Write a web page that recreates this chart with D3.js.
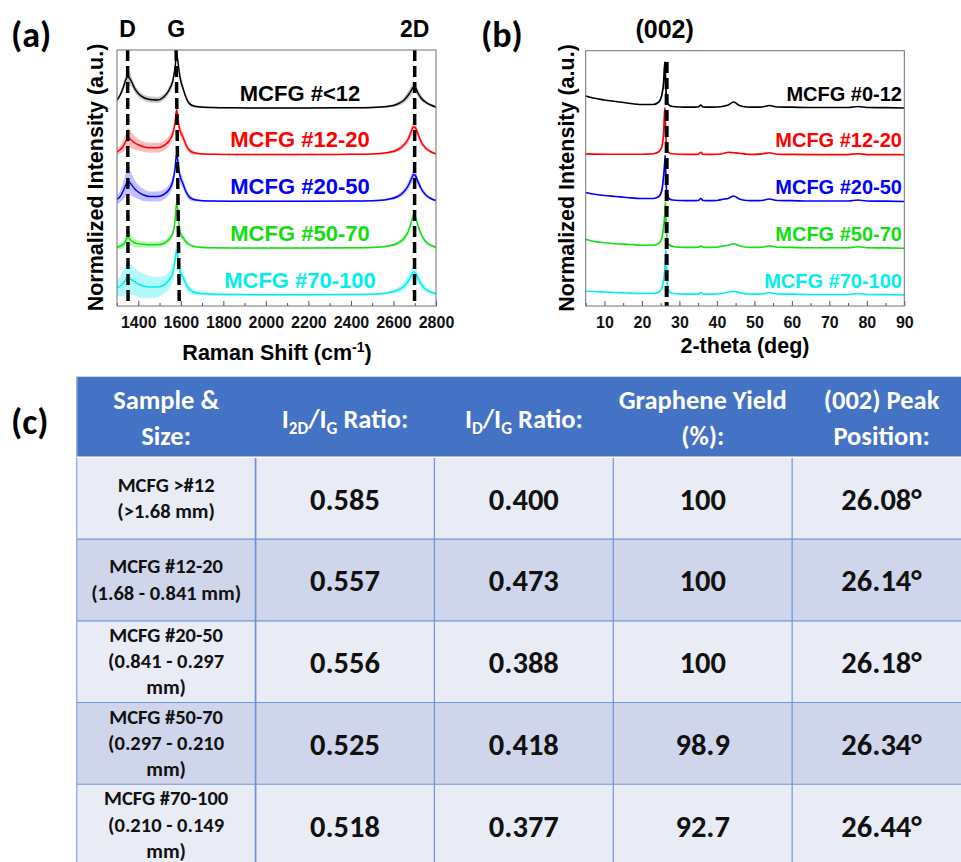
<!DOCTYPE html>
<html><head><meta charset="utf-8">
<script src="https://cdn.jsdelivr.net/npm/d3@7"></script>
<style>body{margin:0;background:#fff} svg{display:block}</style>
</head><body>
<svg id="fig" width="961" height="862"></svg>
<script>
// ---------------- DATA ----------------
const ramanLabels = ["MCFG #<12", "MCFG #12-20", "MCFG #20-50", "MCFG #50-70", "MCFG #70-100"];
const xrdLabels   = ["MCFG #0-12", "MCFG #12-20", "MCFG #20-50", "MCFG #50-70", "MCFG #70-100"];
const seriesColors = ["#000000", "#ff0000", "#0000ff", "#11dd11", "#00eeee"];

const ramanShift = [1300,1315,1330,1340,1347,1352,1358,1368,1382,1400,1425,1455,1490,1520,1545,1562,1573,1580,1585,1592,1600,1610,1622,1638,1660,1690,1750,1850,2000,2200,2400,2500,2570,2620,2650,2670,2685,2695,2703,2715,2730,2750,2775,2800];
const raman_lt12   = [8,13,21,27.5,30.5,31,30,26.5,20,14.5, 10.5,8.5,8,11,18,27,40,54,49,37, 27,20,12,5,2,1,0.5,0.2,0,0, 0.3,0.6,1.5,4,8,13,18,21,20,15, 10,6,3,1];
const raman_lt12_sd= [2,3,4,5,6,6,6,5,4,3.5, 3,3,3,3,3.5,4,4,4,4,4, 4,3.5,3,2,1.5,1,0.8,0.8,0.8,0.8, 0.8,0.8,1,2,3,4,5,5,5,4, 3,2,1.5,1];
const raman_12_20  = [3,5,9,13,16,17,16.5,14.5,12,10, 8,7,7,9,14,21,32,45,40,28, 22,18,11,5,2,1,0.5,0.3,0.2,0.2, 0.5,0.8,2,5,10,16,24,28,27,21, 13,7,3,1];
const raman_12_20_sd=[3,4,6,8,9,10,9,8,7,6, 5,5,5,5,5,5,5,5,5,5, 5,5,4,3,2,1,0.8,0.8,0.8,0.8, 0.8,0.8,1,2,3,4,5,5,5,4, 3,2,1.5,1];
const raman_20_50  = [2,5,11,16,19,20,19.5,17,13,9.5, 6.5,5,5,7,12,20,33,47,42,30, 23,18,11,5,2,1,0.5,0.3,0.2,0.2, 0.4,0.8,2,5,10,16,23,27,26,20, 13,7,3,1];
const raman_20_50_sd=[4,6,9,11,12,12,12,11,9,7, 6,5,5,5,5,6,6,6,6,6, 6,5,4,3,2,1,0.8,0.8,0.8,0.8, 0.8,0.8,1,2,3,4,5,5,5,4, 3,2,1.5,1];
const raman_50_70  = [1,2,4,7,10,11,9.5,7.5,5.5,4.5, 4,3.5,3.5,5,9,15,27,46,40,22, 14,11,7,4,2,1,0.5,0.3,0.2,0.2, 0.4,0.8,2,5,10,17,27,33,31,23, 14,7,3,1];
const raman_50_70_sd=[2,3,4,5,6,6,6,5,4,3.5, 3,3,3,3,3,3,3,3,3,3, 3,3,3,2,1.5,1,0.8,0.8,0.8,0.8, 0.8,0.8,1,2,3,3,3,3,3,3, 2.5,2,1.5,1];
const raman_70_100 = [7,9,12,15,17,17,16.5,15.5,13.5,11, 9,8,8,10,15,22,34,45,40,28, 22,18,12,6,3,1.5,0.8,0.4,0.2,0.2, 0.4,0.8,2,5,9,14,20,23,22,17, 11,6,3,1.5];
const raman_70_100_sd=[8,10,13,15,16,16,16,15,14,13, 12,11,10,9,9,8,8,8,8,8, 7,6,5,4,3,2,1.5,1,1,1, 1,1,1.5,2.5,4,5,6,6,6,5, 4,3,2,1.5];

const twoTheta = [5,7,10,13,16,20,23,24.5,25.3,25.8,26.1,26.2,26.3,26.4,26.5,26.7,27.0,27.4,28.2,30,33,35,35.7,36.3,38,40,42,43,44.5,46,48,50,52,54,56,60,65,70,75,77.7,80,85,90];
const xrd_0_12   = [12,10,8,6.5,5,3.5,3.5,6,13,26, 46,40,30,20,13,7,4,2.5,1.5,1, 0.8,1,3,1,0.8,1,2,3,6,2.5, 1,0.8,1,2.5,1,0.8,0.5,0.5,0.5,1.5, 0.5,0.3,0];
const xrd_12_20  = [0.8,0.6,0.5,0.5,0.5,0.5,1,3,8,22, 47,42,30,18,11,5,3,1.5,1,0.5, 0.3,0.5,2.5,0.5,0.3,0.5,1.5,2.5,2,1.5, 0.5,0.3,0.8,2,0.5,0.3,0.2,0.2,0.2,1, 0.2,0.1,0];
const xrd_20_50  = [9,7.5,6,5,4,3,3,5,11,26, 40,46,36,24,15,8,4.5,2.5,1.5,1, 0.8,1,3,1,0.8,1,2.5,3,5.5,2.5, 1,0.8,1,2.5,1,0.8,0.5,0.5,0.5,1.5, 0.5,0.3,0];
const xrd_50_70  = [9,7,5.5,4.5,4,3,3,5,10,22, 34,42,46,33,20,9,5,3,2,1, 0.8,1,2.5,1,0.8,1,2.5,3,4.5,2.5, 1,0.8,1,2.5,1,0.8,0.5,0.5,0.5,1.5, 0.5,0.3,0];
const xrd_70_100 = [4,3.5,3,2.5,2,1.5,1.5,3,7,15, 25,32,40,45,34,14,6,3,1.5,1, 0.8,1,2.5,1,0.8,1,2,3,3.5,2.5, 1,0.8,1,2.5,1,0.8,0.5,0.5,0.5,1.5, 0.5,0.3,0];

const stackStep = 46.75;           // vertical offset between stacked traces (a.u.)
const ramanPeaks = [{name:"D", top:1350, bottom:1352}, {name:"G", top:1578, bottom:1593}, {name:"2D", top:2700, bottom:2699}];
const xrdPeak = {name:"(002)", pos:26.6};

const ramanTicks = [1400,1600,1800,2000,2200,2400,2600,2800];
const ramanMinorTicks = [1300,1500,1700,1900,2100,2300,2500,2700];
const xrdTicks = [10,20,30,40,50,60,70,80,90];
const xrdMinorTicks = [5,15,25,35,45,55,65,75,85];

const sampleNames = ["MCFG >#12", "MCFG #12-20", "MCFG #20-50", "MCFG #50-70", "MCFG #70-100"];
const sampleSizes = [["(>1.68 mm)"], ["(1.68 - 0.841 mm)"], ["(0.841 - 0.297", "mm)"], ["(0.297 - 0.210", "mm)"], ["(0.210 - 0.149", "mm)"]];
const ratio2DG = [0.585, 0.557, 0.556, 0.525, 0.518];
const ratioDG  = [0.400, 0.473, 0.388, 0.418, 0.377];
const grapheneYield = [100, 100, 100, 98.9, 92.7];
const peak002 = [26.08, 26.14, 26.18, 26.34, 26.44];

// ---------------- DRAW ----------------
const svg = d3.select("#fig");
const fChart = "'Liberation Sans', Arial, Helvetica, sans-serif";
const fTable = "Carlito, Calibri, Lato, sans-serif";

const ramanMeans = [raman_lt12, raman_12_20, raman_20_50, raman_50_70, raman_70_100];
const ramanSds = [raman_lt12_sd, raman_12_20_sd, raman_20_50_sd, raman_50_70_sd, raman_70_100_sd];
const xrdData = [xrd_0_12, xrd_12_20, xrd_20_50, xrd_50_70, xrd_70_100];
const bandColors = ["#808080", "#ff2020", "#2020ff", "#11dd11", "#00eeee"];
const bandOpacity = [0.45, 0.3, 0.28, 0.28, 0.3];

function frameAndAxes(g, x, y, major, minor, x0, x1, y0, y1) {
  g.append("g").attr("transform", `translate(0,${y1})`)
    .call(d3.axisBottom(x).tickValues(minor).tickSize(-3).tickFormat(""))
    .call(a => a.select(".domain").remove())
    .call(a => a.selectAll("line").attr("stroke", "#555"));
  g.append("g").attr("transform", `translate(0,${y1})`)
    .call(d3.axisBottom(x).tickValues(major).tickSize(-5).tickPadding(10.5).tickFormat(d3.format("d")))
    .call(a => a.select(".domain").remove())
    .call(a => a.selectAll("line").attr("stroke", "#555"))
    .call(a => a.selectAll("text").attr("font-family", fChart).attr("font-weight", "bold").attr("font-size", 16).attr("fill", "#111"));
  g.append("rect").attr("x", x0).attr("y", y0).attr("width", x1 - x0).attr("height", y1 - y0)
    .attr("fill", "none").attr("stroke", "#707070").attr("stroke-width", 1);
}

// ---- Panel (a) ----
{
  const x0 = 117, x1 = 436, y0 = 50, y1 = 306;
  const x = d3.scaleLinear().domain([1300, 2800]).range([x0, x1]);
  const y = d3.scaleLinear().domain([-11, 245]).range([y1, y0]);
  const g = svg.append("g");
  svg.append("clipPath").attr("id", "clipA").append("rect").attr("x", x0).attr("y", y0).attr("width", x1 - x0).attr("height", y1 - y0);
  const pg = g.append("g").attr("clip-path", "url(#clipA)");
  ramanMeans.forEach((vals, i) => {
    const off = (4 - i) * stackStep;
    const sd = ramanSds[i];
    const area = d3.area().x((d, k) => x(ramanShift[k])).y0((d, k) => y(off + vals[k] - sd[k])).y1((d, k) => y(off + vals[k] + sd[k])).curve(d3.curveMonotoneX);
    pg.append("path").attr("d", area(vals)).attr("fill", bandColors[i]).attr("fill-opacity", bandOpacity[i]);
  });
  ramanMeans.forEach((vals, i) => {
    const off = (4 - i) * stackStep;
    const line = d3.line().x((d, k) => x(ramanShift[k])).y(d => y(off + d)).curve(d3.curveMonotoneX);
    pg.append("path").attr("d", line(vals)).attr("fill", "none").attr("stroke", seriesColors[i]).attr("stroke-width", 1.5);
  });
  ramanPeaks.forEach(p => {
    g.append("line").attr("x1", x(p.top)).attr("x2", x(p.bottom)).attr("y1", y0).attr("y2", y1)
      .attr("stroke", "#000").attr("stroke-width", 3.5).attr("stroke-dasharray", "11,5");
    g.append("text").attr("x", x(p.top)).attr("y", 37).attr("text-anchor", "middle")
      .attr("font-family", fChart).attr("font-weight", "bold").attr("font-size", 23).text(p.name);
  });
  ramanLabels.forEach((t, i) => {
    const off = (4 - i) * stackStep;
    g.append("text").attr("x", 300).attr("y", y(off) - 7.5).attr("text-anchor", "middle")
      .attr("font-family", fChart).attr("font-weight", "bold").attr("font-size", 22).attr("fill", seriesColors[i]).text(t);
  });
  frameAndAxes(g, x, y, ramanTicks, ramanMinorTicks, x0, x1, y0, y1);
  g.append("text").attr("transform", "translate(103,177.5) rotate(-90)").attr("text-anchor", "middle")
    .attr("font-family", fChart).attr("font-weight", "bold").attr("font-size", 21.5).text("Normalized Intensity (a.u.)");
  const xt = g.append("text").attr("x", 277).attr("y", 360).attr("text-anchor", "middle")
    .attr("font-family", fChart).attr("font-weight", "bold").attr("font-size", 21.5);
  xt.append("tspan").text("Raman Shift (cm");
  xt.append("tspan").attr("font-size", 14).attr("dy", -8).text("-1");
  xt.append("tspan").attr("dy", 8).text(")");
  g.append("text").attr("x", 11).attr("y", 47).attr("font-family", fTable).attr("font-weight", "bold").attr("font-size", 36).text("(a)");
}

// ---- Panel (b) ----
{
  const x0 = 585.7, x1 = 904.3, y0 = 50.7, y1 = 306;
  const x = d3.scaleLinear().domain([5, 90]).range([x0, x1]);
  const y = d3.scaleLinear().domain([-11, 245]).range([y1, 50]);
  const g = svg.append("g");
  svg.append("clipPath").attr("id", "clipB").append("rect").attr("x", x0).attr("y", y0).attr("width", x1 - x0).attr("height", y1 - y0);
  const pg = g.append("g").attr("clip-path", "url(#clipB)");
  xrdData.forEach((vals, i) => {
    const off = (4 - i) * stackStep;
    const line = d3.line().x((d, k) => x(twoTheta[k])).y(d => y(off + d)).curve(d3.curveMonotoneX);
    pg.append("path").attr("d", line(vals)).attr("fill", "none").attr("stroke", seriesColors[i]).attr("stroke-width", 1.7);
  });
  g.append("line").attr("x1", x(xrdPeak.pos)).attr("x2", x(xrdPeak.pos)).attr("y1", y(4 * stackStep + 46)).attr("y2", y1)
    .attr("stroke", "#000").attr("stroke-width", 4).attr("stroke-dasharray", "11,5");
  g.append("text").attr("x", x(xrdPeak.pos) - 2).attr("y", 38).attr("text-anchor", "middle")
    .attr("font-family", fChart).attr("font-weight", "bold").attr("font-size", 25).text(xrdPeak.name);
  xrdLabels.forEach((t, i) => {
    const off = (4 - i) * stackStep;
    g.append("text").attr("x", 902).attr("y", y(off) - 7.5).attr("text-anchor", "end")
      .attr("font-family", fChart).attr("font-weight", "bold").attr("font-size", 20).attr("fill", seriesColors[i]).text(t);
  });
  frameAndAxes(g, x, y, xrdTicks, xrdMinorTicks, x0, x1, y0, y1);
  g.append("text").attr("transform", "translate(574,178) rotate(-90)").attr("text-anchor", "middle")
    .attr("font-family", fChart).attr("font-weight", "bold").attr("font-size", 21.5).text("Normalized Intensity (a.u.)");
  g.append("text").attr("x", 745).attr("y", 353).attr("text-anchor", "middle")
    .attr("font-family", fChart).attr("font-weight", "bold").attr("font-size", 21.5).text("2-theta (deg)");
  g.append("text").attr("x", 481).attr("y", 47).attr("font-family", fTable).attr("font-weight", "bold").attr("font-size", 36).text("(b)");
}

// ---- Panel (c): table ----
{
  const g = svg.append("g");
  const colX = d3.scaleBand().domain(d3.range(5)).range([76.7, 971]);
  const rowY = d3.scaleBand().domain(d3.range(5)).range([457.3, 866]);
  const hTop = 376.7, hBot = 457.3, hMid = (hTop + hBot) / 2;
  g.append("rect").attr("x", 76.7).attr("y", hTop).attr("width", 971 - 76.7).attr("height", hBot - hTop).attr("fill", "#4472c4");
  d3.range(5).forEach(r => {
    g.append("rect").attr("x", 76.7).attr("y", rowY(r)).attr("width", 971 - 76.7).attr("height", rowY.bandwidth())
      .attr("fill", r % 2 === 0 ? "#e9ebf5" : "#cfd5ea");
  });
  const lineCol = "#7194d8";
  d3.range(1, 5).forEach(r => {
    g.append("line").attr("x1", 76.7).attr("x2", 971).attr("y1", rowY(r)).attr("y2", rowY(r)).attr("stroke", lineCol).attr("stroke-width", 1.2);
  });
  d3.range(1, 5).forEach(c => {
    g.append("line").attr("x1", colX(c)).attr("x2", colX(c)).attr("y1", hBot).attr("y2", 866).attr("stroke", lineCol).attr("stroke-width", c === 1 ? 1.8 : 1.2);
  });
  g.append("line").attr("x1", 76.7).attr("x2", 76.7).attr("y1", hTop).attr("y2", 866).attr("stroke", "#9db4e3").attr("stroke-width", 1.5);
  g.append("line").attr("x1", 76.7).attr("x2", 971).attr("y1", hBot).attr("y2", hBot).attr("stroke", "#ffffff").attr("stroke-width", 1.5);

  const hdr = (c) => g.append("text").attr("x", colX(c) + colX.bandwidth() / 2).attr("text-anchor", "middle")
      .attr("font-family", fTable).attr("font-weight", "bold").attr("font-size", 26.5).attr("fill", "#fff");
  [[0, ["Sample &", "Size:"]], [3, ["Graphene Yield", "(%):"]], [4, ["(002) Peak", "Position:"]]].forEach(([c, lines]) => {
    lines.forEach((t, k) => hdr(c).attr("y", hMid - 7.7 + k * 35.7).text(t));
  });
  [[1, "2D"], [2, "D"]].forEach(([c, sub]) => {
    const t = hdr(c).attr("y", hMid + 11.3);
    t.append("tspan").text("I");
    t.append("tspan").attr("font-size", 17).attr("dy", 6).text(sub);
    t.append("tspan").attr("dy", -6).text("/I");
    t.append("tspan").attr("font-size", 17).attr("dy", 6).text("G");
    t.append("tspan").attr("dy", -6).text(" Ratio:");
  });

  const f3 = d3.format(".3f");
  const cellTexts = d3.range(5).map(r => [f3(ratio2DG[r]), f3(ratioDG[r]), String(grapheneYield[r]), d3.format(".2f")(peak002[r]) + "°"]);
  d3.range(5).forEach(r => {
    const mid = rowY(r) + rowY.bandwidth() / 2;
    const lines = [sampleNames[r]].concat(sampleSizes[r]);
    lines.forEach((t, k) => {
      g.append("text").attr("x", colX(0) + colX.bandwidth() / 2).attr("y", mid - (lines.length - 1) * 26.3 / 2 + 6.5 + k * 26.3)
        .attr("text-anchor", "middle").attr("font-family", fTable).attr("font-weight", "bold").attr("font-size", 20.5).attr("fill", "#111").text(t);
    });
    cellTexts[r].forEach((t, c) => {
      g.append("text").attr("x", colX(c + 1) + colX.bandwidth() / 2).attr("y", mid + 11.5).attr("text-anchor", "middle")
        .attr("font-family", fTable).attr("font-weight", "bold").attr("font-size", 30.5).attr("fill", "#111").text(t);
    });
  });
  g.append("text").attr("x", 11).attr("y", 434).attr("font-family", fTable).attr("font-weight", "bold").attr("font-size", 36).text("(c)");
}
</script>
</body></html>
